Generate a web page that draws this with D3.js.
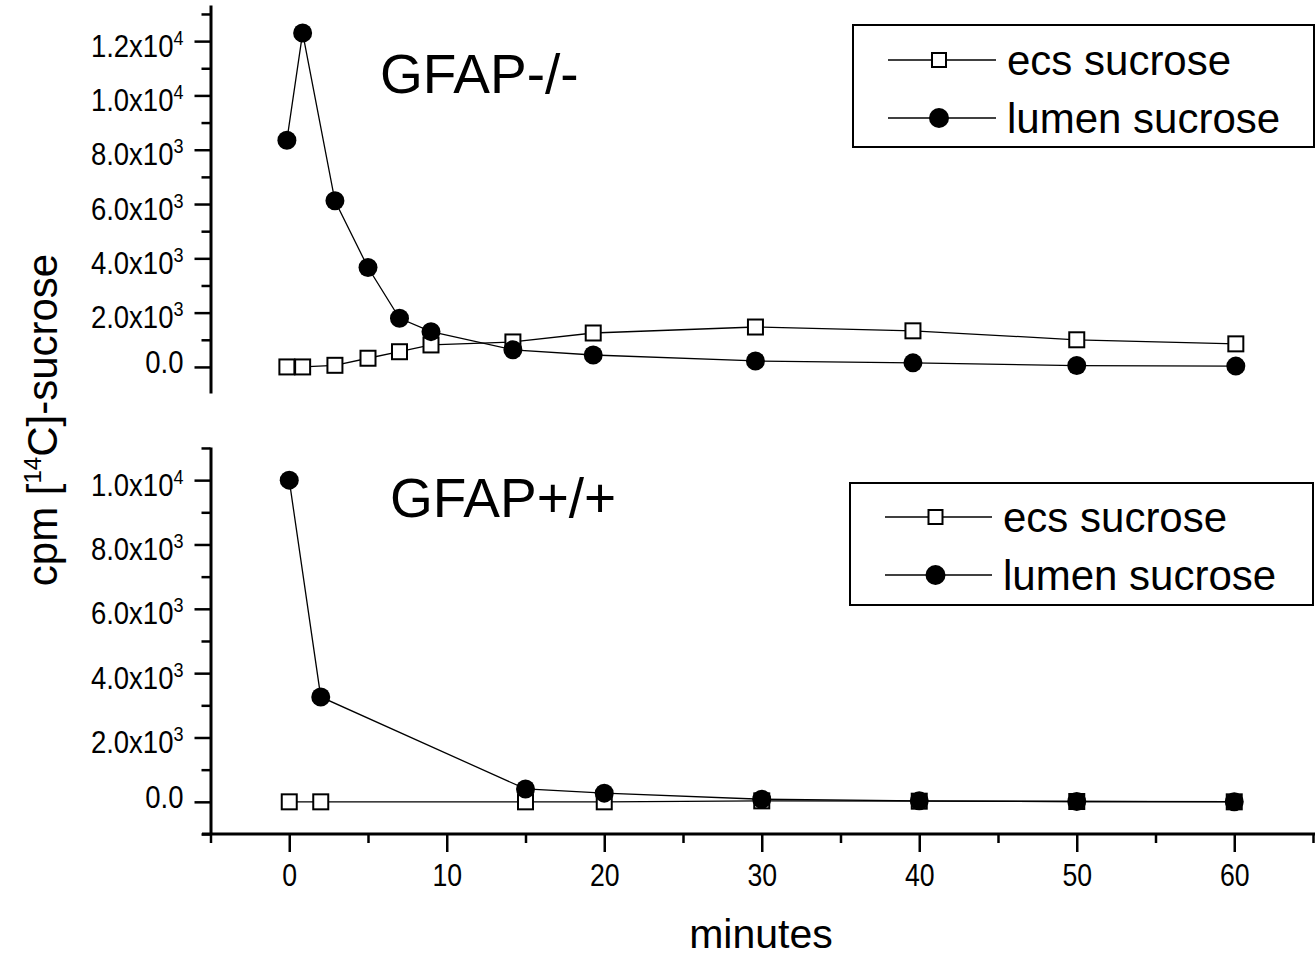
<!DOCTYPE html>
<html>
<head>
<meta charset="utf-8">
<script src="https://cdn.jsdelivr.net/npm/d3@7"></script>
<style>
  body { margin: 0; background: #fff; }
  svg text { font-family: "Liberation Sans", Arial, sans-serif; fill: #000; }
</style>
</head>
<body>
<div id="chart"></div>
<script>
// GFAP-/- panel (top)
const timeKO  = [-0.15, 0.85, 2.9, 5, 7, 9, 14.2, 19.3, 29.6, 39.6, 50, 60.1];
const ecsKO   = [0, 0, 60, 320, 560, 810, 920, 1250, 1470, 1330, 1000, 850];
const lumenKO = [8350, 12300, 6120, 3660, 1790, 1300, 630, 440, 220, 150, 50, 30];

// GFAP+/+ panel (bottom)
const timeWT  = [0, 2, 15, 20, 30, 40, 50, 60];
const ecsWT   = [0, 0, 0, 0, 30, 20, 10, 0];
const lumenWT = [10000, 3260, 400, 270, 80, 30, 10, 5];

const seriesNames = ["ecs sucrose", "lumen sucrose"];
const xTicks = [0, 10, 20, 30, 40, 50, 60];
const xMinor = [-5, 5, 15, 25, 35, 45, 55, 65];
const yTicksTop = [0, 2000, 4000, 6000, 8000, 10000, 12000];
const yMinorTop = [1000, 3000, 5000, 7000, 9000, 11000, 13000];
const yTicksBot = [0, 2000, 4000, 6000, 8000, 10000];
const yMinorBot = [-1000, 1000, 3000, 5000, 7000, 9000, 11000];

const width = 1315, height = 956;

const svg = d3.select("#chart").append("svg")
    .attr("width", width)
    .attr("height", height);

const x = d3.scaleLinear().domain([-5, 65]).range([210.5, 1313]);
const yTop = d3.scaleLinear().domain([-960, 13330]).range([393, 5]);
const yBot = d3.scaleLinear().domain([-1000, 11030]).range([834, 447]);

const sx = 0.86; // tick labels are a bit condensed in the original

// labels like 1.2x10^4
const sciLabel = function (sel) {
    sel.each(function (d) {
        const t = d3.select(this);
        t.text("");
        if (d === 0) {
            t.append("tspan").text("0.0");
            t.attr("y", 6);
            return;
        }
        const e = Math.floor(Math.log10(d));
        const m = (d / Math.pow(10, e)).toFixed(1);
        t.attr("y", 15);
        t.append("tspan").text(m + "x10");
        t.append("tspan").attr("dy", -12).style("font-size", "21px").text(e);
    });
};

const drawYAxis = function (y, major, minor) {
    const gMin = svg.append("g")
        .attr("transform", "translate(210.5,0)")
        .call(d3.axisLeft(y).tickValues(minor).tickSize(9).tickSizeOuter(0).tickFormat(""));
    gMin.select(".domain").remove();
    gMin.selectAll("line").attr("stroke-width", 2.5);

    const g = svg.append("g")
        .attr("transform", "translate(210.5,0)")
        .call(d3.axisLeft(y).tickValues(major).tickSize(16).tickSizeOuter(0));
    g.select(".domain").attr("stroke-width", 3);
    g.selectAll("line").attr("stroke-width", 2.5);
    g.selectAll("text")
        .attr("dy", null)
        .attr("x", -27 / sx)
        .attr("transform", `scale(${sx},1)`)
        .style("font-size", "32px")
        .call(sciLabel);
};

drawYAxis(yTop, yTicksTop, yMinorTop);
drawYAxis(yBot, yTicksBot, yMinorBot);

// x axis (bottom panel only)
svg.append("line")
    .attr("x1", 202).attr("x2", 1315)
    .attr("y1", 834).attr("y2", 834)
    .attr("stroke", "#000").attr("stroke-width", 3);

const gxMin = svg.append("g")
    .attr("transform", "translate(0,834)")
    .call(d3.axisBottom(x).tickValues(xMinor).tickSize(9).tickSizeOuter(0).tickFormat(""));
gxMin.select(".domain").remove();
gxMin.selectAll("line").attr("stroke-width", 2.5);

const gx = svg.append("g")
    .attr("transform", "translate(0,834)")
    .call(d3.axisBottom(x).tickValues(xTicks).tickSize(18).tickSizeOuter(0));
gx.select(".domain").remove();
gx.selectAll("line").attr("stroke-width", 2.5);
gx.selectAll("text")
    .attr("dy", null)
    .attr("y", 52)
    .attr("transform", `scale(${sx},1)`)
    .style("font-size", "31px");

// series
const drawPanel = function (y, times, ecs, lumen) {
    const line = d3.line().x(d => x(d[0])).y(d => y(d[1]));
    const ecsPts = times.map((t, i) => [t, ecs[i]]);
    const lumPts = times.map((t, i) => [t, lumen[i]]);

    svg.append("path").datum(ecsPts)
        .attr("d", line).attr("fill", "none")
        .attr("stroke", "#000").attr("stroke-width", 1.3);
    svg.append("g").selectAll("rect").data(ecsPts).enter().append("rect")
        .attr("x", d => x(d[0]) - 7.5).attr("y", d => y(d[1]) - 7.5)
        .attr("width", 15).attr("height", 15)
        .attr("fill", "#fff").attr("stroke", "#000").attr("stroke-width", 2);

    svg.append("path").datum(lumPts)
        .attr("d", line).attr("fill", "none")
        .attr("stroke", "#000").attr("stroke-width", 1.3);
    svg.append("g").selectAll("circle").data(lumPts).enter().append("circle")
        .attr("cx", d => x(d[0])).attr("cy", d => y(d[1]))
        .attr("r", 9.5).attr("fill", "#000");
};

drawPanel(yTop, timeKO, ecsKO, lumenKO);
drawPanel(yBot, timeWT, ecsWT, lumenWT);

// legends
const drawLegend = function (bx, by, bw, bh, rows) {
    svg.append("rect")
        .attr("x", bx).attr("y", by).attr("width", bw).attr("height", bh)
        .attr("fill", "none").attr("stroke", "#000").attr("stroke-width", 2);
    rows.forEach((r, i) => {
        svg.append("line")
            .attr("x1", r.x1).attr("x2", r.x2).attr("y1", r.y).attr("y2", r.y)
            .attr("stroke", "#000").attr("stroke-width", 1.3);
        const mx = (r.x1 + r.x2) / 2 - 3;
        if (i === 0) {
            svg.append("rect")
                .attr("x", mx - 7).attr("y", r.y - 7).attr("width", 14).attr("height", 14)
                .attr("fill", "#fff").attr("stroke", "#000").attr("stroke-width", 2);
        } else {
            svg.append("circle").attr("cx", mx).attr("cy", r.y).attr("r", 10).attr("fill", "#000");
        }
        svg.append("text")
            .attr("x", r.x2 + 11).attr("y", r.y + 15)
            .style("font-size", "42px")
            .text(seriesNames[i]);
    });
};

drawLegend(853, 25, 461, 122, [
    {x1: 888, x2: 996, y: 60},
    {x1: 888, x2: 996, y: 118}
]);
drawLegend(850, 483, 463, 122, [
    {x1: 885, x2: 992, y: 517},
    {x1: 885, x2: 992, y: 575}
]);

// panel titles
svg.append("text").attr("x", 380).attr("y", 93)
    .style("font-size", "55px").text("GFAP-/-");
svg.append("text").attr("x", 390).attr("y", 517)
    .style("font-size", "55px").text("GFAP+/+");

// axis titles
svg.append("text")
    .attr("x", 761).attr("y", 948)
    .attr("text-anchor", "middle")
    .style("font-size", "41px")
    .text("minutes");

const yTitle = svg.append("text")
    .attr("transform", "translate(57,420) rotate(-90)")
    .attr("text-anchor", "middle")
    .style("font-size", "42px");
yTitle.append("tspan").text("cpm [");
yTitle.append("tspan").attr("dy", -16).style("font-size", "24px").text("14");
yTitle.append("tspan").attr("dy", 16).text("C]-sucrose");
</script>
</body>
</html>
